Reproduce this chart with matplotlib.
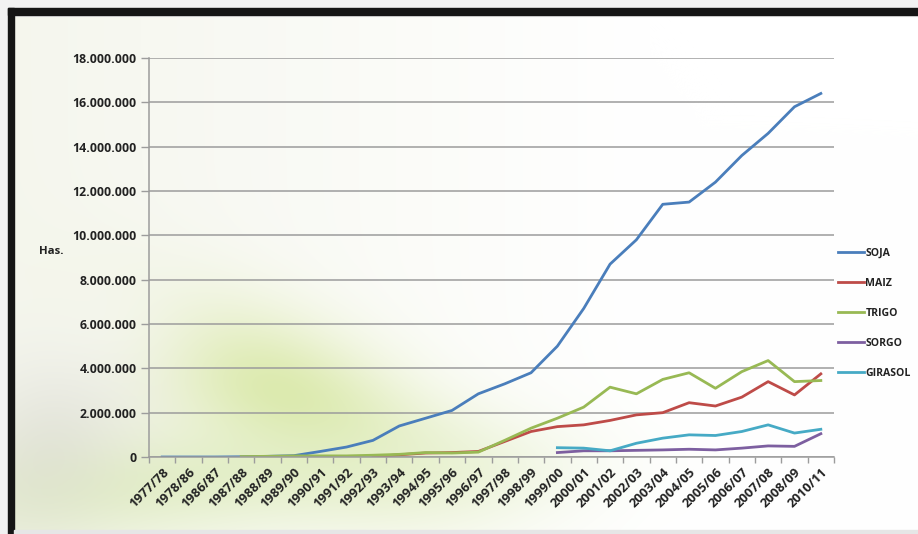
import numpy as np
import matplotlib

matplotlib.use("Agg")
import matplotlib.pyplot as plt
from matplotlib.patches import Rectangle
from matplotlib.ticker import FuncFormatter, FixedLocator

campaigns = [
    "1977/78", "1978/86", "1986/87", "1987/88", "1988/89", "1989/90",
    "1990/91", "1991/92", "1992/93", "1993/94", "1994/95", "1995/96",
    "1996/97", "1997/98", "1998/99", "1999/00", "2000/01", "2001/02",
    "2002/03", "2003/04", "2004/05", "2005/06", "2006/07", "2007/08",
    "2008/09", "2010/11",
]
nan = np.nan

# hectares sown per campaign
soja = [0, 0, 0, 10_000, 30_000, 60_000, 250_000, 450_000, 750_000,
        1_400_000, 1_750_000, 2_100_000, 2_850_000, 3_300_000, 3_800_000,
        5_000_000, 6_700_000, 8_700_000, 9_800_000, 11_400_000, 11_500_000,
        12_400_000, 13_600_000, 14_600_000, 15_800_000, 16_400_000]
maiz = [nan, nan, nan, nan, nan, nan, nan, nan, 20_000, 100_000, 180_000,
        200_000, 250_000, 700_000, 1_150_000, 1_370_000, 1_450_000,
        1_650_000, 1_900_000, 2_000_000, 2_450_000, 2_300_000, 2_700_000,
        3_400_000, 2_800_000, 3_750_000]
trigo = [nan, nan, nan, 20_000, 30_000, 50_000, 50_000, 50_000, 80_000,
         120_000, 200_000, 180_000, 220_000, 750_000, 1_300_000, 1_750_000,
         2_250_000, 3_150_000, 2_850_000, 3_500_000, 3_800_000, 3_100_000,
         3_850_000, 4_350_000, 3_400_000, 3_450_000]
sorgo = [nan] * 15 + [200_000, 280_000, 280_000, 300_000, 320_000, 350_000,
                      320_000, 400_000, 500_000, 480_000, 1_050_000]
girasol = [nan] * 15 + [420_000, 400_000, 280_000, 620_000, 850_000,
                        1_000_000, 970_000, 1_150_000, 1_450_000, 1_080_000,
                        1_250_000]

series = [
    ("SOJA", soja, "#4a7ebb"),
    ("MAIZ", maiz, "#be4b48"),
    ("TRIGO", trigo, "#98b954"),
    ("SORGO", sorgo, "#7d5fa0"),
    ("GIRASOL", girasol, "#46aac5"),
]

FONT = "Open Sans"
TEXT_COLOR = "#222222"
W, H = 918, 534


def make_background():
    """Soft pale-green blurred backdrop like the slide behind the chart."""
    yy, xx = np.mgrid[0:H, 0:W].astype(float)
    img = np.ones((H, W, 3))
    base = np.array([0.96, 0.965, 0.93])
    fade = np.clip(1 - xx / 650, 0, 1)[..., None]
    img = img * (1 - fade) + base * fade

    def blob(cx, cy, sx, sy, color, amp, angle=0.0):
        nonlocal img
        a = np.deg2rad(angle)
        dx, dy = xx - cx, yy - cy
        u = dx * np.cos(a) + dy * np.sin(a)
        v = -dx * np.sin(a) + dy * np.cos(a)
        g = amp * np.exp(-(u ** 2 / (2 * sx ** 2) + v ** 2 / (2 * sy ** 2)))
        g = g[..., None]
        img = img * (1 - g) + np.array(color) * g

    blob(275, 390, 120, 50, (0.83, 0.90, 0.60), 0.8, angle=25)
    blob(170, 480, 170, 40, (0.86, 0.92, 0.72), 0.7, angle=-5)
    blob(55, 430, 55, 80, (0.83, 0.83, 0.79), 0.5, angle=30)
    blob(110, 320, 80, 60, (0.98, 0.98, 0.97), 0.6)
    blob(430, 470, 110, 35, (0.90, 0.94, 0.80), 0.5)
    return np.clip(img, 0, 1)


def plot_areas():
    fig = plt.figure(figsize=(W / 100, H / 100), dpi=100)

    bg = fig.add_axes([0, 0, 1, 1], zorder=-10)
    bg.imshow(make_background(), aspect="auto", interpolation="bilinear")
    bg.axis("off")

    # black photo frame on top / left, thin grey strip at the bottom
    fig.patches.append(Rectangle((0, 1 - 16 / H), 1, 16 / H, transform=fig.transFigure,
                                 color="#f2f2f2", zorder=-5))
    fig.patches.append(Rectangle((0, 0), 8 / W, 1, transform=fig.transFigure,
                                 color="#f2f2f2", zorder=-5))
    fig.patches.append(Rectangle((8 / W, 1 - 15 / H), 1, 7 / H, transform=fig.transFigure,
                                 color="#151515", zorder=-4))
    fig.patches.append(Rectangle((8 / W, 0), 6 / W, 1 - 8 / H, transform=fig.transFigure,
                                 color="#151515", zorder=-4))
    fig.patches.append(Rectangle((14 / W, 0), 1, 4 / H, transform=fig.transFigure,
                                 color="#e6e6e6", zorder=-4))

    left, right = 149 / W, 834 / W
    bottom, top = 1 - 457 / H, 1 - 58 / H
    ax = fig.add_axes([left, bottom, right - left, top - bottom])
    ax.patch.set_alpha(0)

    x = np.arange(len(campaigns))
    for name, values, color in series:
        ax.plot(x, values, color=color, lw=2.0, label=name,
                solid_joinstyle="round")

    ax.set_xlim(-0.5, len(campaigns) - 0.5)
    ax.set_ylim(0, 18_000_000)
    ax.set_yticks(np.arange(0, 18_000_001, 2_000_000))
    ax.yaxis.set_major_formatter(
        FuncFormatter(lambda v, _: f"{int(v):,}".replace(",", ".")))
    ax.grid(axis="y", color="#9c9c9c", lw=1.1)
    ax.set_axisbelow(True)

    ax.set_xticks(x)
    ax.set_xticklabels(campaigns)
    ax.xaxis.set_minor_locator(FixedLocator(np.arange(-0.5, len(campaigns), 1)))
    ax.tick_params(axis="x", which="major", length=0, pad=6)
    ax.tick_params(axis="x", which="minor", length=4, color="#9c9c9c", width=1)
    ax.tick_params(axis="y", length=6, color="#9c9c9c", width=1, pad=3)
    for lbl in ax.get_xticklabels():
        lbl.set_rotation(45)
        lbl.set_ha("right")
        lbl.set_rotation_mode("anchor")
        lbl.set_fontsize(9.4)
    for lbl in ax.get_yticklabels():
        lbl.set_fontsize(8.9)
    for lbl in ax.get_xticklabels() + ax.get_yticklabels():
        lbl.set_fontfamily(FONT)
        lbl.set_fontweight("bold")
        lbl.set_color(TEXT_COLOR)

    for side in ("top", "right"):
        ax.spines[side].set_visible(False)
    for side in ("left", "bottom"):
        ax.spines[side].set_color("#9c9c9c")
        ax.spines[side].set_linewidth(1.1)

    fig.text(39 / W, 1 - 252 / H, "Has.", fontfamily=FONT, fontweight="bold",
             fontsize=8.2, color=TEXT_COLOR, va="center", ha="left")

    leg = ax.legend(loc="upper left", bbox_to_anchor=(838 / W, 1 - 248 / H),
                    bbox_transform=fig.transFigure, frameon=False,
                    handlelength=2.5, handletextpad=0.1, labelspacing=1.8,
                    borderpad=0, borderaxespad=0,
                    prop={"family": FONT, "weight": "bold", "size": 7.6})
    for t in leg.get_texts():
        t.set_color(TEXT_COLOR)

    fig.savefig("out.png", dpi=100)


if __name__ == "__main__":
    plot_areas()
